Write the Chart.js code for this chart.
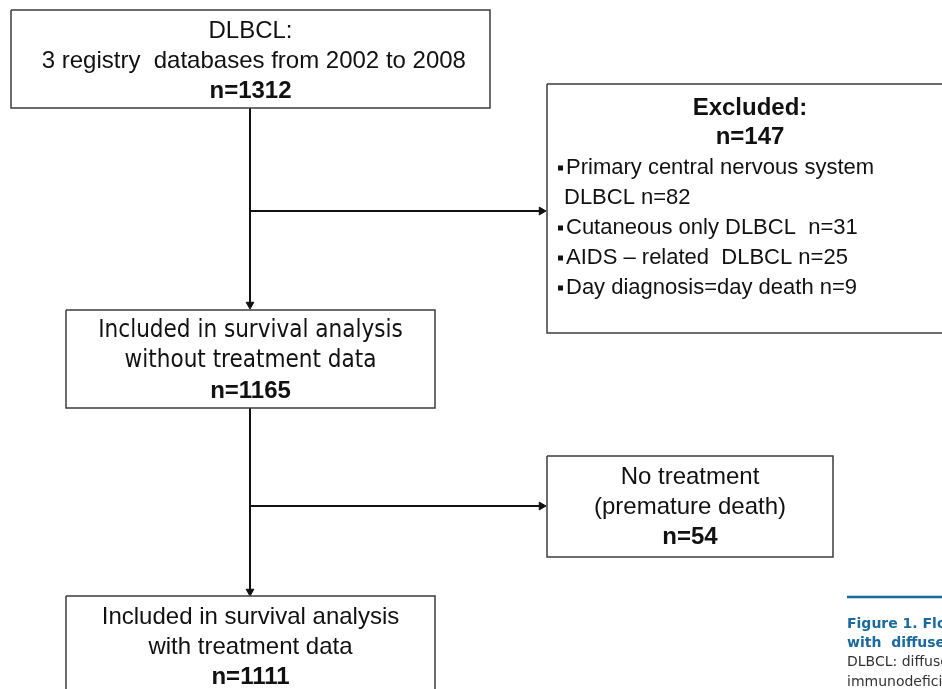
<!DOCTYPE html>
<html>
<head>
<meta charset="utf-8">
<script src="https://cdn.jsdelivr.net/npm/chart.js@4"></script>
<style>
  html, body { margin: 0; padding: 0; background: #fff; overflow: hidden; }
  #wrap { width: 942px; height: 689px; position: relative; }
</style>
</head>
<body>
<div id="wrap"><canvas id="flow" width="942" height="689"></canvas></div>
<script>
// flowchart content
const stageTitles = [
  ["DLBCL:", " 3 registry  databases from 2002 to 2008"],
  ["Excluded:"],
  ["Included in survival analysis", "without treatment data"],
  ["No treatment", "(premature death)"],
  ["Included in survival analysis", "with treatment data"]
];
const stageCounts = [1312, 147, 1165, 54, 1111];
const excludedReasons = [
  ["Primary central nervous system", "DLBCL"],
  ["Cutaneous only DLBCL "],
  ["AIDS \u2013 related  DLBCL"],
  ["Day diagnosis=day death"]
];
const excludedCounts = [82, 31, 25, 9];
const captionLines = [
  "Figure 1. Flowchart of patients",
  "with  diffuse large B-cell lymphoma.",
  "DLBCL: diffuse large B-cell lymphoma; AIDS: acquired",
  "immunodeficiency syndrome."
];

// layout (canvas units, axes map 1:1 to pixels)
const boxes = [
  { x0: 11, y0: 10, x1: 490, y1: 108 },
  { x0: 547, y0: 84, x1: 960, y1: 333 },
  { x0: 66, y0: 310, x1: 435, y1: 408 },
  { x0: 547, y0: 456, x1: 833, y1: 557 },
  { x0: 66, y0: 596, x1: 435, y1: 720 }
];
const arrows = [
  { from: [250, 108], to: [250, 309], dir: 180 },
  { from: [250, 211], to: [546, 211], dir: 90 },
  { from: [250, 408], to: [250, 596], dir: 180 },
  { from: [250, 506], to: [546, 506], dir: 90 }
];
const headR = 4.5;

const datasets = [];
boxes.forEach((b) => {
  datasets.push({
    data: [
      { x: b.x0, y: b.y0 }, { x: b.x1, y: b.y0 },
      { x: b.x1, y: b.y1 }, { x: b.x0, y: b.y1 }, { x: b.x0, y: b.y0 }
    ],
    showLine: true,
    borderColor: "#3c3c3c",
    borderWidth: 1.5,
    pointRadius: 0,
    tension: 0,
    fill: false
  });
});
arrows.forEach((a) => {
  // stop the shaft so the triangle tip lands on the target
  const dx = Math.sign(a.to[0] - a.from[0]);
  const dy = Math.sign(a.to[1] - a.from[1]);
  const end = { x: a.to[0] - dx * headR, y: a.to[1] - dy * headR };
  datasets.push({
    data: [{ x: a.from[0], y: a.from[1] }, end],
    showLine: true,
    borderColor: "#111",
    borderWidth: 2,
    pointRadius: [0, headR],
    pointStyle: "triangle",
    rotation: a.dir,
    pointBackgroundColor: "#111",
    pointBorderColor: "#111",
    pointBorderWidth: 1,
    tension: 0
  });
});

const textPlugin = {
  id: "flowText",
  afterDraw(chart) {
    const ctx = chart.ctx;
    const sx = chart.scales.x;
    const sy = chart.scales.y;
    ctx.save();
    ctx.fillStyle = "#111";
    ctx.textBaseline = "middle";
    ctx.textAlign = "center";

    // three-line boxes
    [0, 2, 3, 4].forEach((i) => {
      const b = boxes[i];
      const cx = sx.getPixelForValue((b.x0 + Math.min(b.x1, 942)) / 2);
      const lines = stageTitles[i];
      const regFont = i === 2 ? "24px 'DejaVu Sans Condensed', 'DejaVu Sans', sans-serif" : "24px 'Liberation Sans', Arial, sans-serif";
      lines.forEach((t, k) => {
        ctx.font = regFont;
        ctx.fillText(t, cx, sy.getPixelForValue(b.y0 + 21 + k * 30));
      });
      ctx.font = "bold 24px 'Liberation Sans', Arial, sans-serif";
      ctx.fillText("n=" + stageCounts[i], cx, sy.getPixelForValue(b.y0 + 21 + lines.length * 30));
    });

    // excluded box
    const e = boxes[1];
    ctx.font = "bold 24px 'Liberation Sans', Arial, sans-serif";
    ctx.fillText(stageTitles[1][0], sx.getPixelForValue(750), sy.getPixelForValue(e.y0 + 24));
    ctx.fillText("n=" + stageCounts[1], sx.getPixelForValue(750), sy.getPixelForValue(e.y0 + 53));
    ctx.textAlign = "left";
    ctx.font = "22px 'Liberation Sans', Arial, sans-serif";
    let row = 0;
    excludedReasons.forEach((parts, i) => {
      parts.forEach((p, k) => {
        const y = sy.getPixelForValue(e.y0 + 84 + row * 30);
        let t = p;
        if (k === parts.length - 1) t += " n=" + excludedCounts[i];
        if (k === 0) {
          ctx.fillRect(sx.getPixelForValue(558), y - 2.5, 5, 5);
          ctx.fillText(t, sx.getPixelForValue(566), y);
        } else {
          ctx.fillText(t, sx.getPixelForValue(564), y);
        }
        row++;
      });
    });

    // caption at right edge
    ctx.strokeStyle = "#1b6a9c";
    ctx.lineWidth = 2.5;
    ctx.beginPath();
    ctx.moveTo(sx.getPixelForValue(847), sy.getPixelForValue(597));
    ctx.lineTo(sx.getPixelForValue(942), sy.getPixelForValue(597));
    ctx.stroke();
    captionLines.forEach((t, k) => {
      ctx.fillStyle = k < 2 ? "#1b6a9c" : "#333";
      ctx.font = (k < 2 ? "bold 14px" : "14px") + " 'DejaVu Sans', Verdana, sans-serif";
      ctx.fillText(t, sx.getPixelForValue(847), sy.getPixelForValue(624 + k * 19.3));
    });
    ctx.restore();
  }
};

new Chart(document.getElementById("flow"), {
  type: "scatter",
  data: { datasets: datasets },
  options: {
    responsive: false,
    animation: false,
    devicePixelRatio: 1,
    events: [],
    layout: { padding: 0, autoPadding: false },
    plugins: { legend: { display: false }, tooltip: { enabled: false } },
    scales: {
      x: { type: "linear", min: 0, max: 942, display: false },
      y: { type: "linear", min: 0, max: 689, reverse: true, display: false }
    }
  },
  plugins: [textPlugin]
});
</script>
</body>
</html>
